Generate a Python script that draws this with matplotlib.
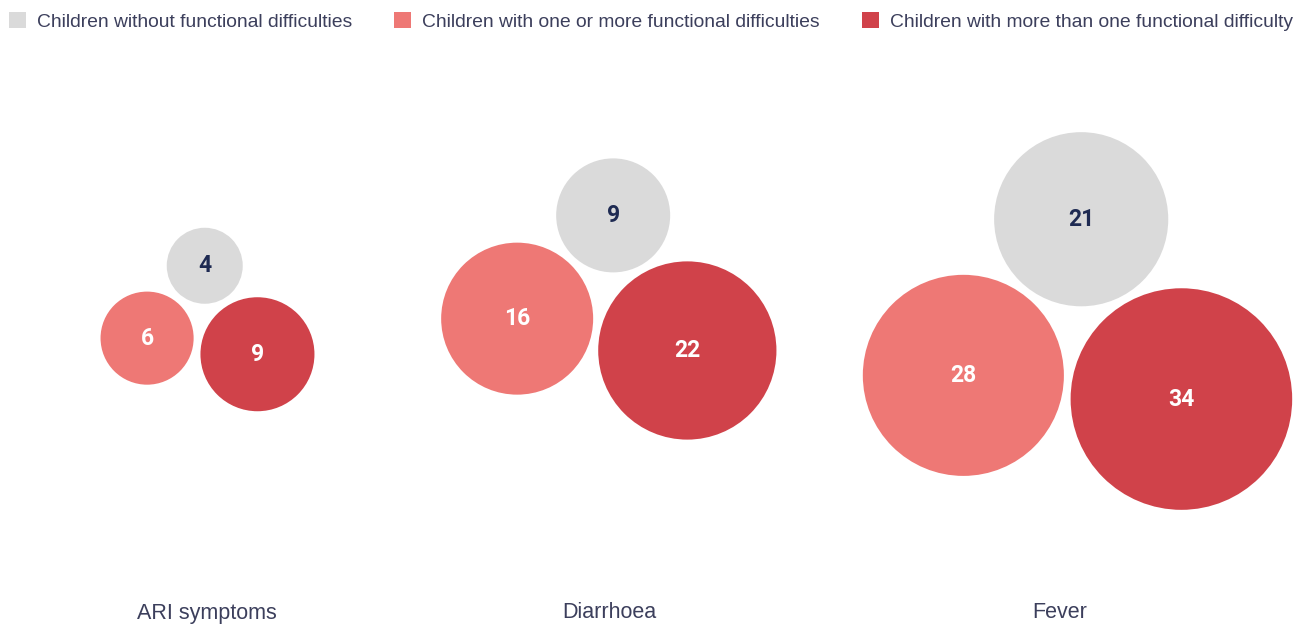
"""
Bubble chart: share of children with ARI symptoms, diarrhoea and fever,
by functional difficulty status. Bubble area is proportional to the value.
"""

import numpy as np
import matplotlib
matplotlib.use("Agg")
import matplotlib.pyplot as plt
from matplotlib.patches import Circle, Patch

# ---- data -------------------------------------------------------------
categories = ["ARI symptoms", "Diarrhoea", "Fever"]
series     = [
    "Children without functional difficulties",
    "Children with one or more functional difficulties",
    "Children with more than one functional difficulty",
]
no_difficulty   = [4, 9, 21]
one_or_more     = [6, 16, 28]
more_than_one   = [9, 22, 34]

# ---- style / layout ---------------------------------------------------
W, H       = 1306, 624
COLORS     = ["#dadada", "#ee7875", "#d0424a"]
NUM_COLORS = ["#1e2a52", "white", "white"]
TEXT_COLOR = "#3c3f5c"
K_RADIUS   = 19.0      # px per sqrt(unit)
PAD        = 8.0       # gap between touching bubbles
GROUP_XY   = [(207.5, 319.5), (608.8, 299.0), (1077.5, 321.0)]   # bbox centres
TILT_DEG   = [8.3, 10.6, 6.2]                                     # lower pair tilt
LABEL_X    = [207, 609, 1060]
LABEL_Y    = 613
LEG_FS     = 13.9


def pack_trio(r_top, r_left, r_right, tilt_deg):
    """Left/right bubbles side by side (tilted), top bubble resting on both."""
    d_lr = r_left + r_right + PAD
    d_lt = r_left + r_top + PAD
    d_rt = r_right + r_top + PAD
    t = np.radians(tilt_deg)
    left  = np.array([0.0, 0.0])
    u     = np.array([np.cos(t), np.sin(t)])          # y grows downwards
    right = left + d_lr * u
    n     = np.array([u[1], -u[0]])                   # normal pointing up
    a     = (d_lt**2 - d_rt**2 + d_lr**2) / (2 * d_lr)
    h     = np.sqrt(max(d_lt**2 - a**2, 0.0))
    top   = left + a * u + h * n
    return np.array([top, left, right])


fig = plt.figure(figsize=(W / 100, H / 100), dpi=100)
ax = fig.add_axes([0, 0, 1, 1])
ax.set_xlim(0, W)
ax.set_ylim(H, 0)
ax.axis("off")

for i, cat in enumerate(categories):
    vals  = [no_difficulty[i], one_or_more[i], more_than_one[i]]
    radii = [K_RADIUS * np.sqrt(v) for v in vals]
    pts   = pack_trio(radii[0], radii[1], radii[2], TILT_DEG[i])
    lo = np.min(pts - np.array(radii)[:, None], axis=0)
    hi = np.max(pts + np.array(radii)[:, None], axis=0)
    pts = pts - (lo + hi) / 2 + np.array(GROUP_XY[i])
    for (cx, cy), r, v, c, tc in zip(pts, radii, vals, COLORS, NUM_COLORS):
        ax.add_patch(Circle((cx, cy), r, facecolor=c, edgecolor="none"))
        ax.text(cx, cy, f"{v}", ha="center", va="center", color=tc,
                fontsize=16.5, fontweight="bold", family="Roboto")
    ax.text(LABEL_X[i], LABEL_Y, cat, ha="center", va="center",
            color=TEXT_COLOR, fontsize=15.5, family="Liberation Sans")

px = LEG_FS * 100 / 72   # legend font size in pixels
handles = [Patch(facecolor=c, edgecolor="none") for c in COLORS]
ax.legend(handles, series, ncol=3, loc="upper left",
          bbox_to_anchor=(9 / W, 1 - 12 / H), frameon=False,
          prop={"family": "Liberation Sans", "size": LEG_FS},
          labelcolor=TEXT_COLOR, handlelength=17 / px, handleheight=17 / px,
          handletextpad=11 / px, columnspacing=42 / px,
          borderpad=0, borderaxespad=0)

fig.savefig("out.png", dpi=100)
